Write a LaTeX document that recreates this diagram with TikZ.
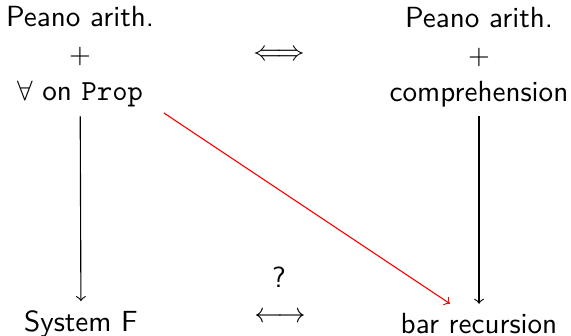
\documentclass[tikz,border=0pt]{standalone}
\begin{document}
\begin{tikzpicture}[x=0.357pt,y=-0.357pt,
  txt/.style={font=\sffamily\fontsize{10.4}{13.2}\selectfont,align=center,inner sep=3pt},
  arr/.style={->,line width=0.4pt}]
\useasboundingbox (0,0) rectangle (571,336);
\node[txt] (L) at (80,57) {Peano arith.\\ $+$\\ $\forall$ on \texttt{Prop}};
\node[txt] (R) at (479,57) {Peano arith.\\ $+$\\ comprehension};
\node[txt,anchor=base] (S) at (81,331) {System F};
\node[txt,anchor=base] (B) at (479,333) {bar recursion};
\node[txt] (E1) at (279,55) {$\Longleftrightarrow$};
\node[txt] (E2) at (280,317) {$\longleftrightarrow$};
\node[txt] (Q) at (279,277) {?};
\draw[arr] (L) -- (S);
\draw[arr] (R) -- (B);
\draw[arr,red] (L.center) -- (B.center) [shorten <=36pt, shorten >=12.5pt];
\end{tikzpicture}
\end{document}
